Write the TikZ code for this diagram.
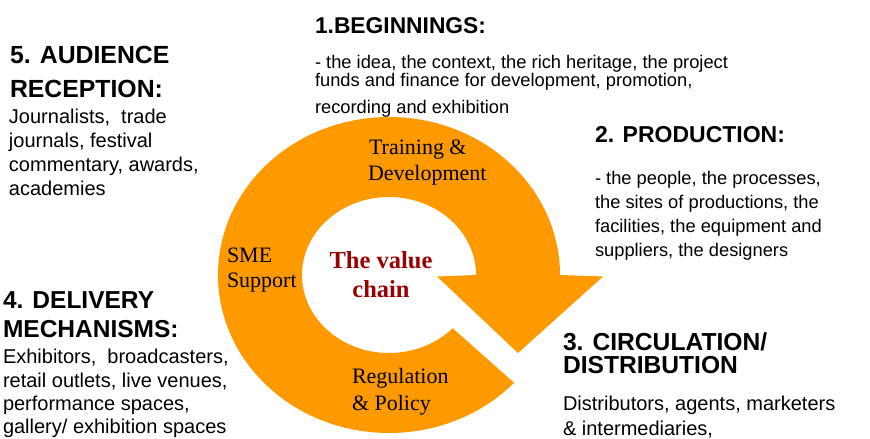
\documentclass[tikz,border=0pt]{standalone}
\usepackage{fontspec}
\setmainfont{Liberation Serif}
\newfontfamily\arialf{Liberation Sans}
\definecolor{ringorange}{RGB}{255,153,0}
\definecolor{valred}{RGB}{153,0,0}
\tikzset{
  hd/.style={anchor=base west, inner sep=0pt, outer sep=0pt, font=\arialf\bfseries\fontsize{#1}{#1}\selectfont},
  bd/.style={anchor=base west, inner sep=0pt, outer sep=0pt, font=\arialf\fontsize{#1}{#1}\selectfont},
  rl/.style={anchor=base west, inner sep=0pt, outer sep=0pt, font=\fontsize{22}{26}\selectfont},
  vc/.style={anchor=base, inner sep=0pt, outer sep=0pt, text=valred, font=\bfseries\fontsize{24.5}{29}\selectfont}
}
\begin{document}
\begin{tikzpicture}[x=1pt,y=-1pt]
\useasboundingbox (0,0) rectangle (870,439);
% ring arrow
\fill[ringorange] (514.07,382.75) arc[start angle=43, end angle=360, x radius=171, y radius=158]
  -- (603,276.5) -- (518,353) -- (437,276.5) -- (476,275)
  arc[start angle=360, end angle=43, x radius=87, y radius=78] -- cycle;
% inner labels
\node[rl] (t1) at (369,154) {Training \&};
\node[rl] (t2) at (368,180) {Development};
\node[rl] (s1) at (227,262) {SME};
\node[rl] (s2) at (227,287) {Support};
\node[rl] (r1) at (352,383) {Regulation};
\node[rl] (r2) at (352,410) {\& Policy};
\node[vc] (v1) at (381,268) {The value};
\node[vc] (v2) at (381,297) {chain};
% 1. beginnings
\node[hd=22.8] (h1) at (315,33) {1.BEGINNINGS:};
\node[bd=18.3] (b11) at (315,68) {- the idea, the context, the rich heritage, the project};
\node[bd=18.3] (b12) at (315,86.5) {funds and finance for development, promotion,};
\node[bd=18.3] (b13) at (315,113) {recording and exhibition};
% 2. production
\node[hd=23] (h2) at (595,142.5) {2. PRODUCTION:};
\node[bd=18.3] (b21) at (595,184) {- the people, the processes,};
\node[bd=18.3] (b22) at (595,208.5) {the sites of productions, the};
\node[bd=18.3] (b23) at (595,232.5) {facilities, the equipment and};
\node[bd=18.3] (b24) at (595,256) {suppliers, the designers};
% 3. circulation
\node[hd=24.6] (h31) at (563,350) {3. CIRCULATION/};
\node[hd=24.6] (h32) at (563,373) {DISTRIBUTION};
\node[bd=20] (b31) at (563,410) {Distributors, agents, marketers};
\node[bd=20] (b32) at (563,435) {\& intermediaries,};
% 4. delivery
\node[hd=24.5] (h41) at (3,308) {4. DELIVERY};
\node[hd=24.5] (h42) at (3,337) {MECHANISMS:};
\node[bd=20] (b41) at (3,363) {Exhibitors,\ \ broadcasters,};
\node[bd=20] (b42) at (3,387) {retail outlets, live venues,};
\node[bd=20] (b43) at (3,410) {performance spaces,};
\node[bd=20] (b44) at (3,433) {gallery/ exhibition spaces};
% 5. audience
\node[hd=24.8] (h51) at (10,63) {5. AUDIENCE};
\node[hd=24.8] (h52) at (10,97) {RECEPTION:};
\node[bd=20] (b51) at (9,123) {Journalists,\ \ trade};
\node[bd=20] (b52) at (9,147) {journals, festival};
\node[bd=20] (b53) at (9,171) {commentary, awards,};
\node[bd=20] (b54) at (9,195) {academies};
\end{tikzpicture}
\end{document}
